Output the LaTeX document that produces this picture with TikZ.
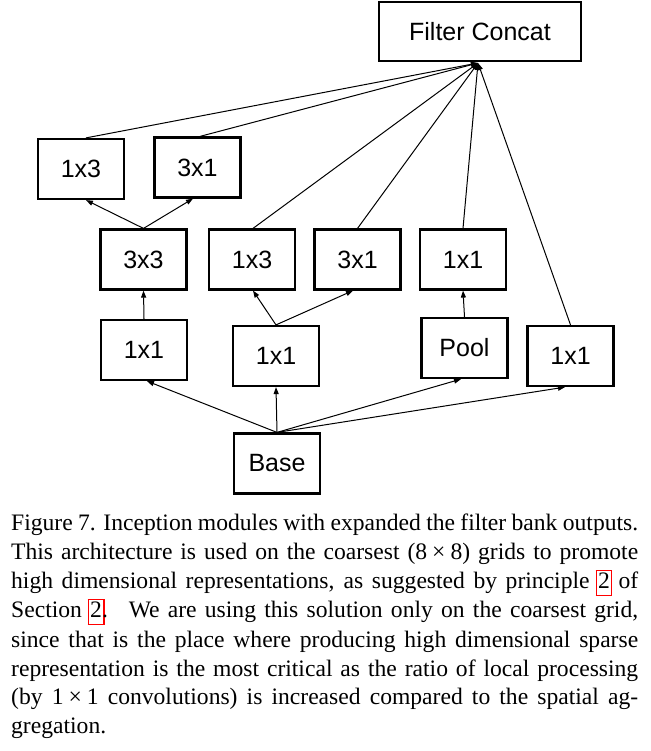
\documentclass[tikz,border=0pt]{standalone}
\usepackage{fontspec}
\usepackage{xcolor}
\setmainfont{Liberation Serif}
\newfontfamily\boxfont{Liberation Sans}
\usetikzlibrary{arrows.meta,calc}
\newcommand\lnkbox[1]{\rlap{\kern-2.5pt\setlength\fboxsep{0pt}\setlength\fboxrule{1.4pt}\textcolor{red}{\fbox{\rule[-7pt]{0pt}{24pt}\hspace{14pt}}}}#1}
\newcommand\capline[1]{\makebox[627pt][s]{#1}}
\begin{document}
\begin{tikzpicture}[x=1pt,y=-1pt,
  blk/.style={draw, line width=2.2pt, minimum width=86pt, minimum height=60pt, inner sep=0pt,
    font=\boxfont\fontsize{25}{30}\selectfont},
  conn/.style={line width=1pt, -{Triangle[length=7pt,width=5pt]}},
  capt/.style={anchor=base west, inner sep=0pt, font=\fontsize{23.6}{29}\selectfont}]
\useasboundingbox (0,0) rectangle (650,751);
\node[blk, minimum width=202pt, minimum height=59pt] (fc) at (480,31.5) {Filter Concat};
\coordinate (apex) at (478,63);
\node[blk] (a13) at (81,169) {1x3};
\node[blk] (a31) at (197.5,167.5) {3x1};
\node[blk] (b33) at (143.5,259.5) {3x3};
\node[blk] (b13) at (252,259.5) {1x3};
\node[blk] (b31) at (357.5,259.5) {3x1};
\node[blk] (b11) at (463,259.5) {1x1};
\node[blk] (c11a) at (144,350) {1x1};
\node[blk] (c11b) at (276,356) {1x1};
\node[blk] (pool) at (464.5,348) {Pool};
\node[blk] (c11d) at (570.5,356) {1x1};
\node[blk] (base) at (277,463.5) {Base};
% to concat
\draw[conn] ($(a13.north)+(5,0)$) -- (apex);
\draw[conn] ($(a31.north)+(2.5,0)$) -- (apex);
\draw[conn] ($(b13.north)+(1,0)$) -- (apex);
\draw[conn] (b31.north) -- (apex);
\draw[conn] (b11.north) -- (apex);
\draw[conn] (c11d.north) -- (apex);
% 3x3 splits
\draw[conn] (b33.north) -- ($(a13.south)+(5,0)$);
\draw[conn] (b33.north) -- ($(a31.south)+(-4.5,0)$);
% second branch split
\draw[conn] (c11b.north) -- ($(b13.south)+(1,0)$);
\draw[conn] (c11b.north) -- ($(b31.south)+(-4.5,0)$);
% vertical
\draw[conn] (c11a.north) -- (b33.south);
\draw[conn] (pool.north) -- (b11.south);
% from base
\draw[conn] (base.north) -- ($(c11a.south)+(3,0)$);
\draw[conn] (base.north) -- (c11b.south);
\draw[conn] (base.north) -- ($(pool.south)+(-3.5,0)$);
\draw[conn] (base.north) -- ($(c11d.south)+(-5.5,0)$);
% caption
\node[capt] (l1) at (11,530) {\capline{Figure 7. Inception modules with expanded the filter bank outputs.}};
\node[capt] (l2) at (11,559) {\capline{This architecture is used on the coarsest (8\kern5pt×\kern5pt8) grids to promote}};
\node[capt] (l3) at (11,588) {\capline{high dimensional representations, as suggested by principle \lnkbox{2} of}};
\node[capt] (l4) at (11,617) {\capline{Section \lnkbox{2}.\hspace{6pt} We are using this solution only on the coarsest grid,}};
\node[capt] (l5) at (11,647) {\capline{since that is the place where producing high dimensional sparse}};
\node[capt] (l6) at (11,676) {\capline{representation is the most critical as the ratio of local processing}};
\node[capt] (l7) at (11,704) {\capline{(by 1\kern5pt×\kern5pt1 convolutions) is increased compared to the spatial ag-}};
\node[capt] (l8) at (11,733) {gregation.};
\end{tikzpicture}
\end{document}
